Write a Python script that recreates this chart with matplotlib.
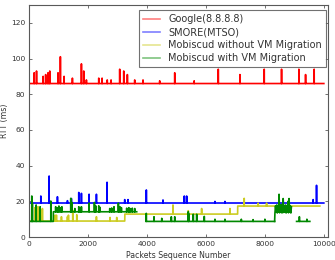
import numpy as np
import matplotlib
matplotlib.use('Agg')
import matplotlib.pyplot as plt

# packet sequence numbers
n_packets = 10000

# Google(8.8.8.8): flat level with spikes
google_level = 86
google_spike_x = [170, 250, 475, 560, 640, 700, 980, 1060, 1186, 1468, 1774, 1853, 1943,
                  2362, 2475, 2650, 2780, 3073, 3210, 3333, 3582, 3864, 4430, 4940, 5600,
                  6418, 7153, 7977, 8565, 9153, 9380, 9672]
google_spike_y = [92, 93, 90, 91, 92, 93, 92, 101, 90, 89, 97, 93, 88,
                  89, 89, 88, 88, 94, 93, 91, 88, 88, 87.5, 92, 87.5,
                  94, 91, 94, 94, 94, 91, 94]

# SMORE(MTSO)
smore_start, smore_end, smore_level = 57, 10000, 19.1
smore_spike_x = [100, 396, 678, 960, 1300, 1434, 1684, 1774, 2034, 2283, 2644, 3243, 3356,
                 3977, 4542, 5265, 5345, 6305, 6644, 9638, 9752]
smore_spike_y = [22.6, 23, 34.2, 22.6, 20.4, 21.6, 25, 24.5, 24, 24, 30.7, 21, 21,
                 26.4, 20.8, 23, 23, 20, 20, 21, 29]

# Mobiscud without VM Migration: (start, end, level)
nomig_steps = [(60, 3245, 9.0), (3245, 7075, 12.9), (7075, 9865, 17.4)]
nomig_spike_x = [200, 300, 400, 450, 880, 926, 1096, 1300, 1333, 1480, 1616, 2283, 2745, 2972,
                 4881, 5400, 5853, 6814, 7298, 7773, 8057]
nomig_spike_y = [16.5, 17, 15, 16, 12.3, 12.3, 11.4, 11.4, 12.3, 15, 12.5, 11.4, 11, 11,
                 18, 14.8, 16, 16, 21.7, 19, 19]

# Mobiscud with VM Migration: (start, end, level)
mig_steps = [(0, 820, 8.8), (820, 3650, 14.2), (3970, 8330, 8.8), (9075, 9525, 8.8)]
mig_spike_x = [0, 90, 110, 237, 373, 735,
               900, 960, 1010, 1080, 1110, 1412, 1446, 1550, 1684, 1730, 1774, 2034, 2215,
               2260, 2362, 2395, 2735, 2802, 2880, 3028, 3080, 3130, 3310, 3380, 3424, 3500, 3583,
               3975, 4237, 4500, 4825, 4940, 5400, 5420, 5570, 5685, 5943, 6305, 6644, 7200,
               7600, 8000, 9170, 9425]
mig_spike_y = [20, 23, 19, 18, 17, 20.2,
               17, 16.5, 17.4, 16.5, 17, 21.7, 19.5, 16, 17, 16.5, 17, 19, 19.4,
               17.5, 17.5, 16.8, 16, 16.3, 17, 19, 17, 16.5, 16.2, 16.5, 16, 16.2, 16,
               13.3, 11.4, 10.5, 11.4, 11.4, 14.2, 13, 12.8, 12.8, 11.6, 10, 10, 10,
               9.8, 10, 11.4, 10]
# dense burst during migration, one value every 20 packets from 8340
mig_burst = [13.4, 17.5, 14, 18, 13.5, 17, 14.2, 24, 13.6, 17.8, 14, 18.2, 13.5, 17,
             21.6, 13.8, 17.5, 14, 18, 13.5, 17.2, 14, 20, 13.6, 21.6, 14, 17.5, 13.5, 17]
mig_burst_start, mig_burst_step = 8340, 20


def build(steps, spike_x, spike_y):
    seq = np.arange(n_packets + 1)
    rtt = np.full(seq.shape, np.nan)
    for a, b, lvl in steps:
        rtt[a:b + 1] = lvl
    for x, y in zip(spike_x, spike_y):
        rtt[x] = y
    return seq, rtt


g_seq, g_rtt = build([(0, n_packets, google_level)], google_spike_x, google_spike_y)
s_seq, s_rtt = build([(smore_start, smore_end, smore_level)], smore_spike_x, smore_spike_y)
n_seq, n_rtt = build(nomig_steps, nomig_spike_x, nomig_spike_y)
m_seq, m_rtt = build(mig_steps, mig_spike_x, mig_spike_y)

# burst samples
burst_seq = [mig_burst_start + i * mig_burst_step for i in range(len(mig_burst))]
burst_seq = [mig_steps[2][1]] + burst_seq
burst_rtt = [mig_steps[2][2]] + mig_burst

fig = plt.figure(figsize=(3.35, 2.6), dpi=100)
ax = fig.add_axes([0.087, 0.088, 0.892, 0.893])

lw = 1.2
ax.plot(g_seq, g_rtt, color='#ff0000', lw=lw, label='Google(8.8.8.8)')
ax.plot(s_seq, s_rtt, color='#0000ff', lw=lw, label='SMORE(MTSO)')
ax.plot(n_seq, n_rtt, color='#cccc22', lw=lw, label='Mobiscud without VM Migration')
ax.plot(m_seq, m_rtt, color='#008800', lw=lw, label='Mobiscud with VM Migration')
ax.plot(burst_seq, burst_rtt, color='#008800', lw=lw)

ax.set_xlim(0, 10140)
ax.set_ylim(0, 130)
ax.set_xticks([0, 2000, 4000, 6000, 8000, 10000])
ax.set_yticks([0, 20, 40, 60, 80, 100, 120])
ax.tick_params(direction='in', top=True, right=True, length=2.5, width=0.6,
               labelsize=5.4, colors='0.35', labelcolor='0.2', pad=3)
for sp in ax.spines.values():
    sp.set_color('0.35')
    sp.set_linewidth(0.8)
ax.set_xlabel('Packets Sequence Number', fontsize=5.6, color='0.2', labelpad=2.5)
ax.set_ylabel('RTT (ms)', fontsize=5.6, color='0.2', labelpad=1)

leg = ax.legend(loc='upper right', bbox_to_anchor=(0.993, 0.978), fontsize=7,
                frameon=True, fancybox=False, borderaxespad=0, handlelength=1.8,
                handletextpad=0.8, borderpad=0.4, labelspacing=0.32)
leg.get_frame().set_edgecolor('0.3')
leg.get_frame().set_linewidth(0.8)
for h in leg.get_lines():
    h.set_alpha(0.5)
for t in leg.get_texts():
    t.set_color('0.2')

fig.savefig('out.png', dpi=100)
